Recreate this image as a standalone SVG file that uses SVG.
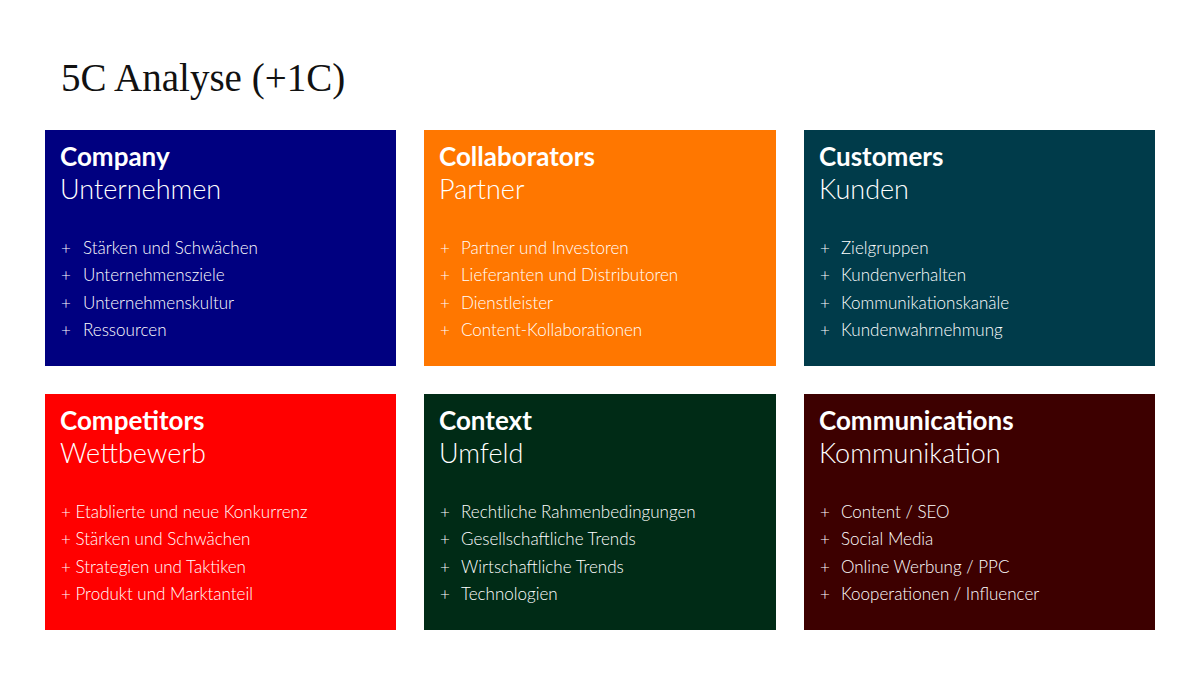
<svg xmlns="http://www.w3.org/2000/svg" width="1200" height="675" viewBox="0 0 1200 675">
<style>
.title{font-family:"Liberation Serif","DejaVu Serif",serif;font-size:39px;fill:#111}
.h{font-family:Lato,"Open Sans",sans-serif;font-weight:700;font-size:26px;fill:#fff}
.s{font-family:Lato,"Open Sans",sans-serif;font-weight:300;font-size:27px;fill:#fff}
.b{font-family:Lato,"Open Sans",sans-serif;font-weight:300;font-size:17px;fill:#fff}
</style>
<rect width="1200" height="675" fill="#fff"/>
<text class="title" x="61" y="91">5C Analyse (+1C)</text>

<g id="company">
<rect x="45" y="130" width="351" height="236" fill="#000080"/>
<text class="h" x="60" y="166">Company</text>
<text class="s" x="60" y="199">Unternehmen</text>
<g class="b">
<text x="61" y="254">+</text><text x="83" y="254">Stärken und Schwächen</text>
<text x="61" y="281">+</text><text x="83" y="281">Unternehmensziele</text>
<text x="61" y="309">+</text><text x="83" y="309">Unternehmenskultur</text>
<text x="61" y="336">+</text><text x="83" y="336">Ressourcen</text>
</g>
</g>

<g id="collaborators">
<rect x="424" y="130" width="352" height="236" fill="#FF7700"/>
<text class="h" x="439" y="166">Collaborators</text>
<text class="s" x="439" y="199">Partner</text>
<g class="b">
<text x="440" y="254">+</text><text x="461" y="254">Partner und Investoren</text>
<text x="440" y="281">+</text><text x="461" y="281">Lieferanten und Distributoren</text>
<text x="440" y="309">+</text><text x="461" y="309">Dienstleister</text>
<text x="440" y="336">+</text><text x="461" y="336">Content-Kollaborationen</text>
</g>
</g>

<g id="customers">
<rect x="804" y="130" width="351" height="236" fill="#003B4A"/>
<text class="h" x="819" y="166">Customers</text>
<text class="s" x="819" y="199">Kunden</text>
<g class="b">
<text x="820" y="254">+</text><text x="841" y="254">Zielgruppen</text>
<text x="820" y="281">+</text><text x="841" y="281">Kundenverhalten</text>
<text x="820" y="309">+</text><text x="841" y="309">Kommunikationskanäle</text>
<text x="820" y="336">+</text><text x="841" y="336">Kundenwahrnehmung</text>
</g>
</g>

<g id="competitors">
<rect x="45" y="394" width="351" height="236" fill="#FF0000"/>
<text class="h" x="60" y="430">Competitors</text>
<text class="s" x="60" y="463">Wettbewerb</text>
<g class="b">
<text x="61" y="518">+ Etablierte und neue Konkurrenz</text>
<text x="61" y="545">+ Stärken und Schwächen</text>
<text x="61" y="573">+ Strategien und Taktiken</text>
<text x="61" y="600">+ Produkt und Marktanteil</text>
</g>
</g>

<g id="context">
<rect x="424" y="394" width="352" height="236" fill="#002B16"/>
<text class="h" x="439" y="430">Context</text>
<text class="s" x="439" y="463">Umfeld</text>
<g class="b">
<text x="440" y="518">+</text><text x="461" y="518">Rechtliche Rahmenbedingungen</text>
<text x="440" y="545">+</text><text x="461" y="545">Gesellschaftliche Trends</text>
<text x="440" y="573">+</text><text x="461" y="573">Wirtschaftliche Trends</text>
<text x="440" y="600">+</text><text x="461" y="600">Technologien</text>
</g>
</g>

<g id="communications">
<rect x="804" y="394" width="351" height="236" fill="#3D0000"/>
<text class="h" x="819" y="430">Communications</text>
<text class="s" x="819" y="463">Kommunikation</text>
<g class="b">
<text x="820" y="518">+</text><text x="841" y="518">Content / SEO</text>
<text x="820" y="545">+</text><text x="841" y="545">Social Media</text>
<text x="820" y="573">+</text><text x="841" y="573">Online Werbung / PPC</text>
<text x="820" y="600">+</text><text x="841" y="600">Kooperationen / Influencer</text>
</g>
</g>
<g id="connectors"/>
</svg>
